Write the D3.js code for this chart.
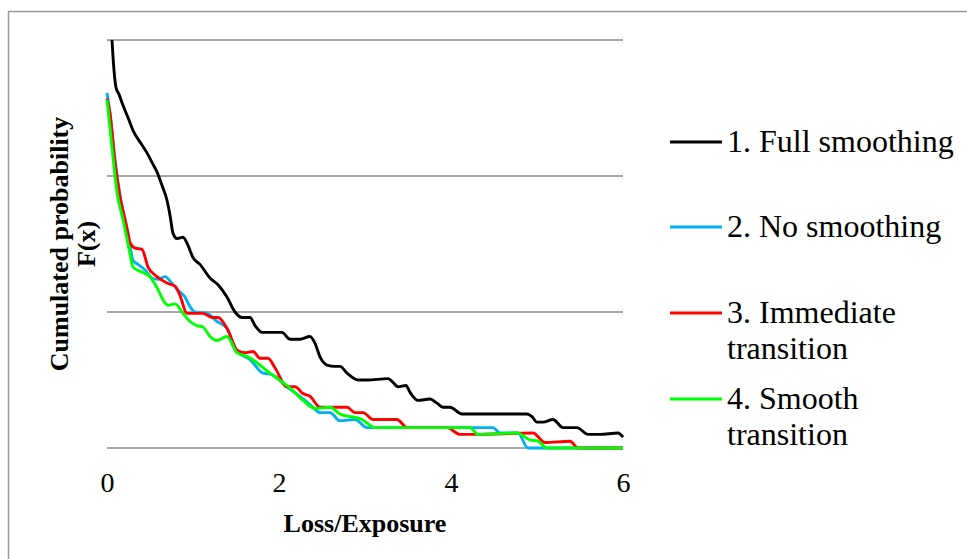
<!DOCTYPE html>
<html>
<head>
<meta charset="utf-8">
<script src="https://cdn.jsdelivr.net/npm/d3@7"></script>
<style>
	body { margin: 0; background: #fff; }
	svg { display: block; font-family: "Liberation Serif", "Times New Roman", serif; }
</style>
</head>
<body>
<svg id="chart" width="967" height="559"></svg>
<script>
	/**
	 * Data
	 */
	const seriesNames = ["1. Full smoothing", "2. No smoothing", "3. Immediate transition", "4. Smooth transition"];
	const seriesColors = ["#000000", "#00b0f0", "#ff0000", "#00ff00"];
	const xTicks = [0, 2, 4, 6];
	const yGridTicks = [0, 0.1, 0.2, 0.3];

	const fullSmoothing = [
		[0.058, 0.300], [0.081, 0.278], [0.105, 0.265], [0.140, 0.260], [0.186, 0.252], [0.244, 0.243],
		[0.314, 0.232], [0.384, 0.225], [0.465, 0.217], [0.523, 0.210], [0.581, 0.203], [0.640, 0.193],
		[0.698, 0.182], [0.733, 0.171], [0.767, 0.158], [0.814, 0.154], [0.884, 0.155], [0.942, 0.149],
		[1.000, 0.140], [1.081, 0.135], [1.198, 0.125], [1.291, 0.120], [1.395, 0.111], [1.488, 0.100],
		[1.570, 0.096], [1.663, 0.096], [1.721, 0.090], [1.802, 0.085], [1.860, 0.085], [1.953, 0.085],
		[2.035, 0.085], [2.128, 0.080], [2.244, 0.080], [2.360, 0.082], [2.419, 0.077], [2.477, 0.067],
		[2.558, 0.061], [2.651, 0.060], [2.709, 0.060], [2.791, 0.055], [2.919, 0.050], [3.023, 0.050],
		[3.267, 0.051], [3.314, 0.049], [3.384, 0.045], [3.477, 0.046], [3.523, 0.041], [3.616, 0.035],
		[3.756, 0.036], [3.837, 0.033], [3.907, 0.030], [3.988, 0.030], [4.128, 0.025], [4.256, 0.025],
		[4.884, 0.025], [4.942, 0.023], [5.000, 0.019], [5.070, 0.019], [5.186, 0.021], [5.302, 0.015],
		[5.465, 0.015], [5.593, 0.010], [5.733, 0.010], [5.942, 0.011], [6.000, 0.008]
	];

	const noSmoothing = [
		[0.000, 0.261], [0.035, 0.246], [0.093, 0.212], [0.151, 0.186], [0.221, 0.164], [0.244, 0.159],
		[0.302, 0.138], [0.360, 0.135], [0.442, 0.131], [0.523, 0.125], [0.593, 0.124], [0.674, 0.126],
		[0.756, 0.121], [0.826, 0.116], [0.907, 0.111], [0.965, 0.104], [1.023, 0.100], [1.163, 0.099],
		[1.279, 0.093], [1.395, 0.088], [1.512, 0.071], [1.663, 0.065], [1.814, 0.055], [1.919, 0.054],
		[2.093, 0.045], [2.244, 0.038], [2.395, 0.030], [2.477, 0.026], [2.593, 0.026], [2.709, 0.020],
		[2.884, 0.021], [3.023, 0.015], [4.488, 0.015], [4.570, 0.011], [4.779, 0.011], [4.895, 0.000],
		[6.000, 0.000]
	];

	const immediateTransition = [
		[0.000, 0.257], [0.035, 0.246], [0.093, 0.210], [0.151, 0.185], [0.221, 0.165], [0.267, 0.151],
		[0.326, 0.147], [0.407, 0.146], [0.477, 0.133], [0.581, 0.126], [0.709, 0.121], [0.791, 0.119],
		[0.849, 0.112], [0.930, 0.099], [1.000, 0.099], [1.116, 0.099], [1.221, 0.096], [1.291, 0.096],
		[1.395, 0.088], [1.512, 0.072], [1.605, 0.070], [1.698, 0.071], [1.779, 0.066], [1.872, 0.066],
		[1.953, 0.059], [2.093, 0.045], [2.186, 0.045], [2.279, 0.040], [2.360, 0.038], [2.477, 0.030],
		[2.791, 0.030], [2.884, 0.026], [2.977, 0.026], [3.093, 0.021], [3.372, 0.021], [3.488, 0.015],
		[3.953, 0.015], [4.105, 0.010], [4.256, 0.010], [4.953, 0.011], [5.093, 0.004], [5.384, 0.005],
		[5.477, 0.000], [6.000, 0.000]
	];

	const smoothTransition = [
		[0.000, 0.256], [0.058, 0.221], [0.116, 0.188], [0.186, 0.168], [0.267, 0.143], [0.302, 0.133],
		[0.419, 0.129], [0.500, 0.126], [0.581, 0.118], [0.651, 0.109], [0.709, 0.105], [0.791, 0.106],
		[0.884, 0.099], [0.965, 0.093], [1.047, 0.090], [1.116, 0.089], [1.198, 0.082], [1.279, 0.079],
		[1.395, 0.082], [1.512, 0.070], [1.640, 0.067], [1.895, 0.055], [2.128, 0.044], [2.279, 0.035],
		[2.419, 0.029], [2.593, 0.030], [2.709, 0.025], [2.965, 0.021], [3.116, 0.015], [4.186, 0.015],
		[4.221, 0.015], [4.314, 0.010], [4.767, 0.011], [4.919, 0.006], [5.012, 0.005], [5.116, 0.000],
		[6.000, 0.000]
	];

	const seriesValues = [fullSmoothing, noSmoothing, immediateTransition, smoothTransition];

	/**
	 * Layout
	 */
	let margin = { top: 40, right: 344, bottom: 111, left: 107 };
	let width = 967;
	let height = 559;
	let innerWidth = width - margin.left - margin.right;
	let innerHeight = height - margin.top - margin.bottom;
	let gridColor = "#8a8a8a";
	let strokeWidth = 2.9;

	let svg = d3.select("#chart");

	// Outer chart border: only its top and left edges fall inside the picture
	svg.append("path")
		.attr("d", `M8.5,${height} V11.5 H${width}`)
		.attr("fill", "none")
		.attr("stroke", "#9a9a9a")
		.attr("stroke-width", 1.5);

	let xScale = d3.scaleLinear().domain([0, 6]).range([0, innerWidth]);
	let yScale = d3.scaleLinear().domain([0, 0.3]).range([innerHeight, 0]);

	let plot = svg.append("g")
		.attr("transform", `translate(${margin.left},${margin.top})`);

	// Horizontal gridlines (no labels on the y axis)
	plot.append("g")
		.attr("class", "grid")
		.selectAll("line")
		.data(yGridTicks)
		.enter()
		.append("line")
		.attr("x1", 0)
		.attr("x2", innerWidth)
		.attr("y1", d => yScale(d))
		.attr("y2", d => yScale(d))
		.attr("stroke", gridColor)
		.attr("stroke-width", 1.4);

	// X axis tick labels
	let xAxis = d3.axisBottom(xScale)
		.tickValues(xTicks)
		.tickSize(0)
		.tickPadding(24)
		.tickFormat(d3.format("d"));

	plot.append("g")
		.attr("transform", `translate(0,${innerHeight})`)
		.call(xAxis)
		.call(g => g.select(".domain").remove())
		.call(g => g.selectAll("text")
			.attr("font-family", "Liberation Serif, serif")
			.attr("font-size", 28)
			.attr("fill", "#000"));

	// Series lines
	let line = d3.line()
		.x(d => xScale(d[0]))
		.y(d => yScale(d[1]))
		.curve(d3.curveMonotoneX);

	plot.append("g")
		.attr("class", "series")
		.selectAll("path")
		.data(seriesValues)
		.enter()
		.append("path")
		.attr("d", line)
		.attr("fill", "none")
		.attr("stroke", (d, i) => seriesColors[i])
		.attr("stroke-width", strokeWidth)
		.attr("stroke-linejoin", "round");

	// Axis titles
	svg.append("text")
		.attr("x", margin.left + innerWidth / 2)
		.attr("y", 532)
		.attr("text-anchor", "middle")
		.attr("font-weight", "bold")
		.attr("font-size", 26)
		.text("Loss/Exposure");

	let yTitle = svg.append("text")
		.attr("transform", `translate(68,${margin.top + innerHeight / 2}) rotate(-90)`)
		.attr("text-anchor", "middle")
		.attr("font-weight", "bold")
		.attr("font-size", 26);
	yTitle.append("tspan").attr("x", 0).attr("y", 0).text("Cumulated probability");
	yTitle.append("tspan").attr("x", 0).attr("y", 27).text("F(x)");

	// Legend
	let legendRows = [
		{ lineY: 142, lines: ["1. Full smoothing"] },
		{ lineY: 227, lines: ["2. No smoothing"] },
		{ lineY: 313, lines: ["3. Immediate", "transition"] },
		{ lineY: 399, lines: ["4. Smooth", "transition"] }
	];

	let legend = svg.append("g").attr("class", "legend");
	legendRows.forEach(function(row, i) {
		legend.append("line")
			.attr("x1", 670)
			.attr("x2", 722)
			.attr("y1", row.lineY)
			.attr("y2", row.lineY)
			.attr("stroke", seriesColors[i])
			.attr("stroke-width", strokeWidth);

		let label = legend.append("text")
			.attr("font-size", 32)
			.attr("fill", "#000");
		row.lines.forEach(function(txt, j) {
			label.append("tspan")
				.attr("x", 727)
				.attr("y", row.lineY + 10 + j * 36)
				.text(txt);
		});
	});
</script>
</body>
</html>
